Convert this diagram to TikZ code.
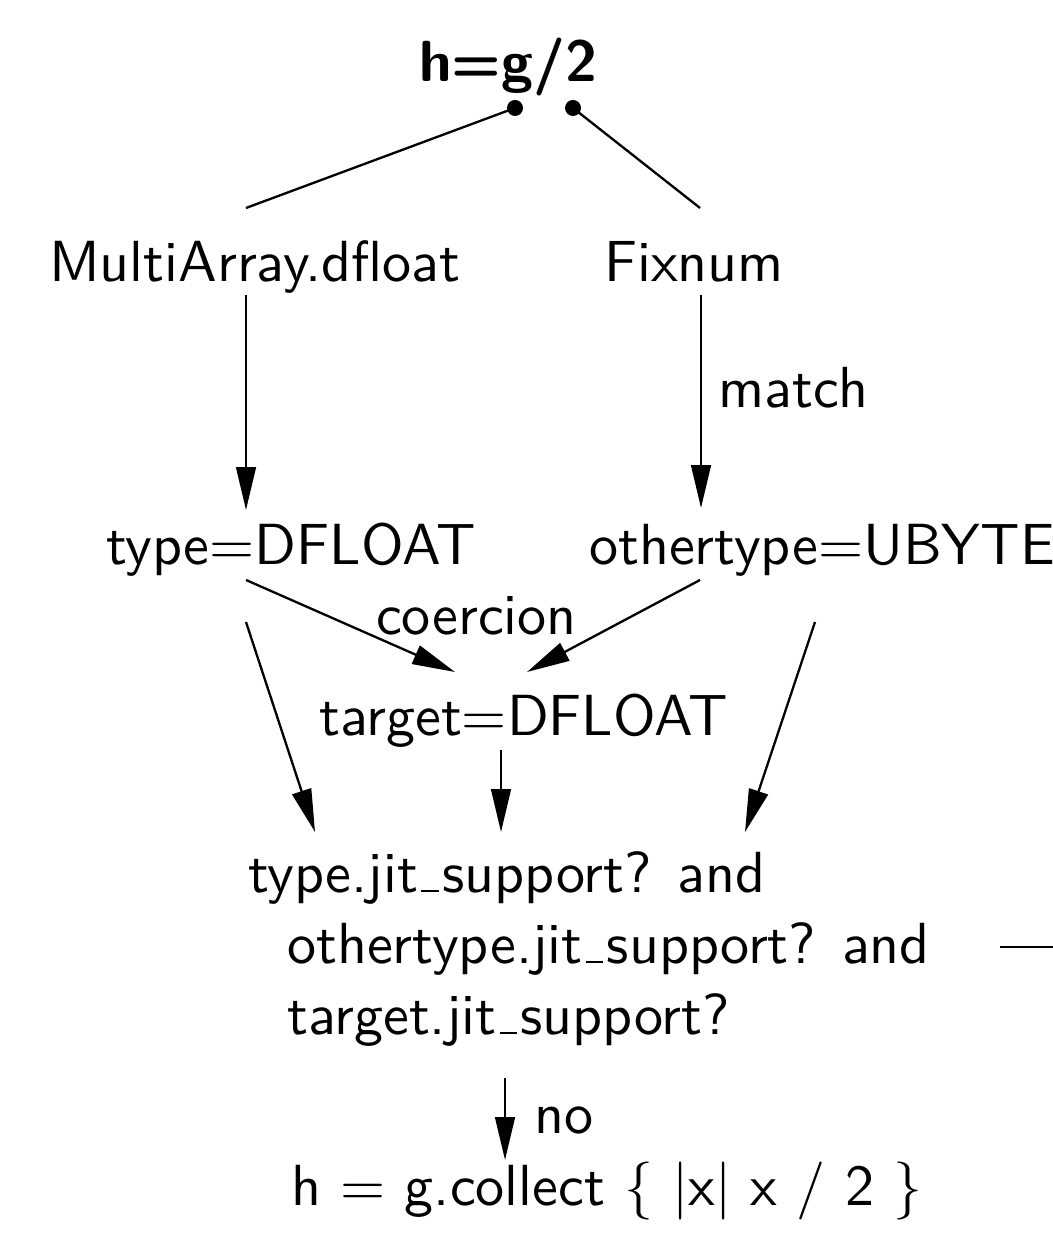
\documentclass[tikz,border=0pt]{standalone}
\usepackage{fontspec}
\usetikzlibrary{arrows.meta}
\renewcommand\familydefault{\sfdefault}
% thin underscore sitting on the baseline
\newcommand\lowbar{\leavevmode\kern0.06em\vbox{\hrule width 0.3em height 0.4pt}\kern0.06em}
\tikzset{
  lbl/.style={anchor=base west, inner sep=0pt},
  conn/.style={line width=0.4pt, -{Triangle[length=7.4pt,width=3.4pt]}},
  link/.style={line width=0.4pt},
}
\begin{document}
\begin{tikzpicture}[x=0.1724pt, y=-0.1724pt]
\useasboundingbox (0,0) rectangle (1052,1237);

% expression at the top and its two operands
\node[lbl] (expr) at (418,82) {\bfseries h=g/2};
\coordinate (gl) at (515,108);
\coordinate (gr) at (573,108);
\coordinate (ml) at (246,208);
\coordinate (fr) at (700,208);
\draw[link] (gl) -- (ml);
\draw[link] (gr) -- (fr);
\fill (gl) circle (8);
\fill (gr) circle (8);

\node[lbl] (multi) at (48,282) {MultiArray.dfloat};
\node[lbl] (fix) at (603,282) {Fixnum};

% operand types
\coordinate (m1) at (246,295);
\coordinate (m2) at (246,510);
\draw[conn] (m1) -- (m2);
\coordinate (f1) at (701,295);
\coordinate (f2) at (701,508);
\draw[conn] (f1) -- (f2);
\node[lbl] (match) at (717,408) {match};

\node[lbl] (type) at (105,565) {type$=$DFLOAT};
\node[lbl] (other) at (588,565) {othertype$=$UBYTE};

% coercion to the common target type
\coordinate (t1) at (246,580);
\coordinate (c1) at (455,672);
\draw[conn] (t1) -- (c1);
\coordinate (o1) at (700,580);
\coordinate (c2) at (527,672);
\draw[conn] (o1) -- (c2);
\node[lbl] (coer) at (375,635) {coercion};
\node[lbl] (target) at (318,735) {target$=$DFLOAT};

% all three types feed the JIT check
\coordinate (t2) at (246,622);
\coordinate (j1) at (315,832);
\draw[conn] (t2) -- (j1);
\coordinate (g1) at (501,750);
\coordinate (j2) at (501,832);
\draw[conn] (g1) -- (j2);
\coordinate (o2) at (815,622);
\coordinate (j3) at (745,832);
\draw[conn] (o2) -- (j3);

\node[lbl] (jit1) at (247,892) {type.jit\lowbar support? and};
\node[lbl] (jit2) at (286,963) {othertype.jit\lowbar support? and};
\node[lbl] (jit3) at (286,1034) {target.jit\lowbar support?};
\coordinate (y1) at (1000,947);
\coordinate (y2) at (1060,947);
\draw[link] (y1) -- (y2);

% fallback branch
\coordinate (n1) at (505,1078);
\coordinate (n2) at (505,1160);
\draw[conn] (n1) -- (n2);
\node[lbl] (no) at (533,1133) {no};
\node[lbl] (collect) at (290,1205) {h $=$ g.collect $\{$ $|$x$|$ x / 2 $\}$};
\end{tikzpicture}
\end{document}
